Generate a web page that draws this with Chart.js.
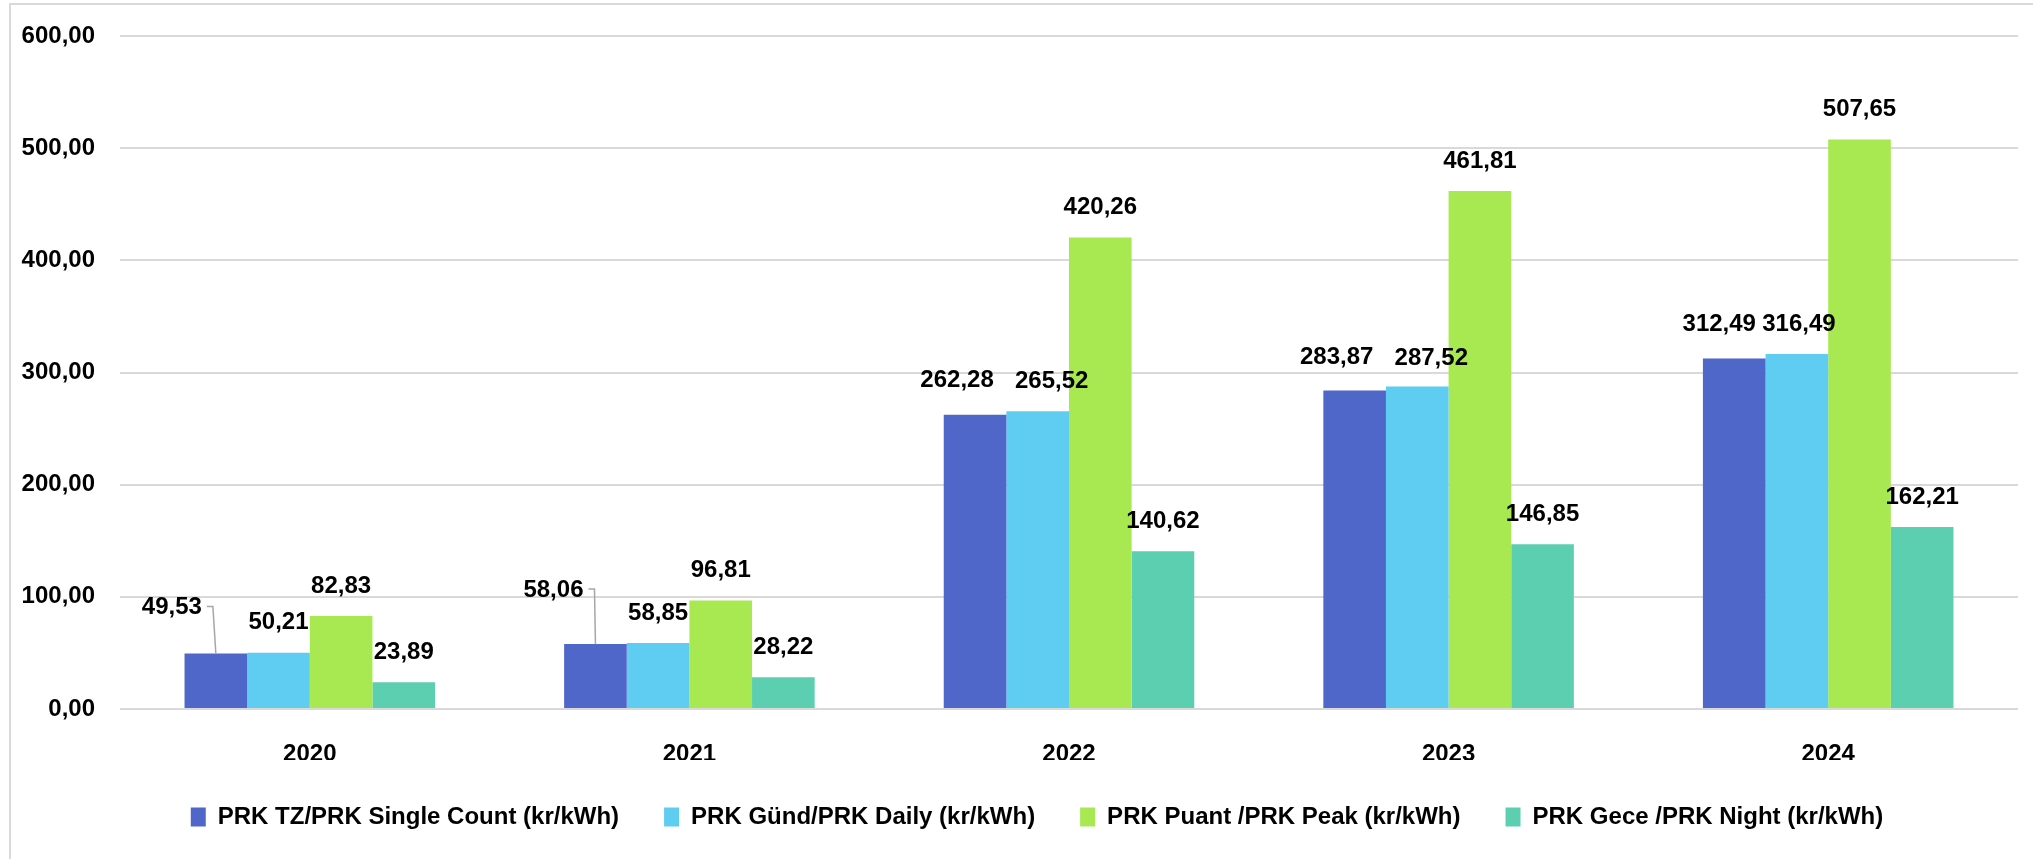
<!DOCTYPE html>
<html>
<head>
<meta charset="utf-8">
<script src="https://cdn.jsdelivr.net/npm/chart.js@4.4.1/dist/chart.umd.min.js"></script>
<style>
  html, body { margin: 0; padding: 0; background: #ffffff; }
  #wrap { position: relative; width: 2033px; height: 859px; }
  canvas { display: block; }
</style>
</head>
<body>
<div id="wrap"><canvas id="c" width="2033" height="859"></canvas></div>
<script>
// ---- data ----
const categories = ['2020', '2021', '2022', '2023', '2024'];
const seriesNames = [
  'PRK TZ/PRK Single Count (kr/kWh)',
  'PRK Günd/PRK Daily (kr/kWh)',
  'PRK Puant /PRK Peak (kr/kWh)',
  'PRK Gece /PRK Night (kr/kWh)'
];
const singleCount = [49.53, 58.06, 262.28, 283.87, 312.49];
const daily       = [50.21, 58.85, 265.52, 287.52, 316.49];
const peak        = [82.83, 96.81, 420.26, 461.81, 507.65];
const night       = [23.89, 28.22, 140.62, 146.85, 162.21];
const yTicks = [0, 100, 200, 300, 400, 500, 600];

// ---- styling ----
const colors = ['#4F67C8', '#5FCCF2', '#A8E952', '#5DCFB1'];
const FONT = "'Liberation Sans', Arial, sans-serif";
const fmt = v => v.toFixed(2).replace('.', ',');

// label offsets relative to default (centered above bar): [dx, dy, leader]
const labelAdjust = {
  '0-0': [-44, -16, true],
  '0-1': [-42, -24, true],
  '0-2': [-18, -4, false],
  '1-2': [14, 0, false],
  '0-3': [-18, -3, false],
  '1-3': [14, 2, false],
  '0-4': [-15, -4, false],
  '1-4': [2, 0, false]
};

const frame = {
  id: 'frame',
  beforeDraw(chart) {
    const ctx = chart.ctx;
    ctx.save();
    ctx.strokeStyle = '#d9d9d9';
    ctx.lineWidth = 2;
    ctx.beginPath();
    ctx.moveTo(10, 859);
    ctx.lineTo(10, 4);
    ctx.lineTo(2033, 4);
    ctx.stroke();
    ctx.restore();
  }
};

// nudge the legend block slightly right, as in the reference
const legendShift = {
  id: 'legendShift',
  afterLayout(chart) {
    if (chart.legend) {
      chart.legend.left += 28;
      chart.legend.right += 28;
    }
  }
};

const valueLabels = {
  id: 'valueLabels',
  afterDatasetsDraw(chart) {
    const ctx = chart.ctx;
    ctx.save();
    ctx.font = 'bold 24px ' + FONT;
    ctx.fillStyle = '#000000';
    ctx.textAlign = 'center';
    ctx.textBaseline = 'middle';
    chart.data.datasets.forEach((ds, di) => {
      const meta = chart.getDatasetMeta(di);
      meta.data.forEach((bar, i) => {
        const adj = labelAdjust[di + '-' + i] || [0, 0, false];
        const x = bar.x + adj[0];
        const y = bar.y - 30 + adj[1];
        const text = fmt(ds.data[i]);
        ctx.fillText(text, x, y);
        if (adj[2]) {
          const w = ctx.measureText(text).width;
          const sx = x + w / 2 + 5;
          ctx.save();
          ctx.strokeStyle = '#a6a6a6';
          ctx.lineWidth = 1.5;
          ctx.beginPath();
          ctx.moveTo(sx, y - 1);
          ctx.lineTo(sx + 6, y - 1);
          ctx.lineTo(bar.x, bar.y);
          ctx.stroke();
          ctx.restore();
        }
      });
    });
    ctx.restore();
  }
};

const datasets = [singleCount, daily, peak, night].map((d, k) => ({
  label: seriesNames[k],
  data: d,
  backgroundColor: colors[k],
  borderWidth: 0,
  barPercentage: 1.0,
  categoryPercentage: 0.66
}));

new Chart(document.getElementById('c'), {
  type: 'bar',
  data: { labels: categories, datasets },
  options: {
    responsive: false,
    animation: false,
    devicePixelRatio: 1,
    layout: { padding: { top: 36, left: 0, right: 15, bottom: 20 } },
    plugins: {
      title: { display: false },
      tooltip: { enabled: false },
      legend: {
        position: 'bottom',
        labels: {
          boxWidth: 15,
          boxHeight: 19,
          padding: 45,
          color: '#000000',
          font: { family: FONT, size: 24, weight: 'bold' }
        }
      }
    },
    scales: {
      x: {
        afterFit(scale) { scale.height = 51; },
        grid: { display: false, drawTicks: false },
        border: { display: false },
        ticks: {
          color: '#000000',
          padding: 31,
          font: { family: FONT, size: 24, weight: 'bold' }
        }
      },
      y: {
        min: 0,
        max: 600,
        afterBuildTicks(scale) { scale.ticks = yTicks.map(v => ({ value: v })); },
        afterFit(scale) { scale.width = 120; scale.paddingTop = 20; },
        grid: { color: '#d9d9d9', lineWidth: 2, drawTicks: false },
        border: { display: false },
        ticks: {
          color: '#000000',
          padding: 25,
          font: { family: FONT, size: 24, weight: 'bold' },
          callback: v => fmt(v)
        }
      }
    }
  },
  plugins: [frame, legendShift, valueLabels]
});
</script>
</body>
</html>
